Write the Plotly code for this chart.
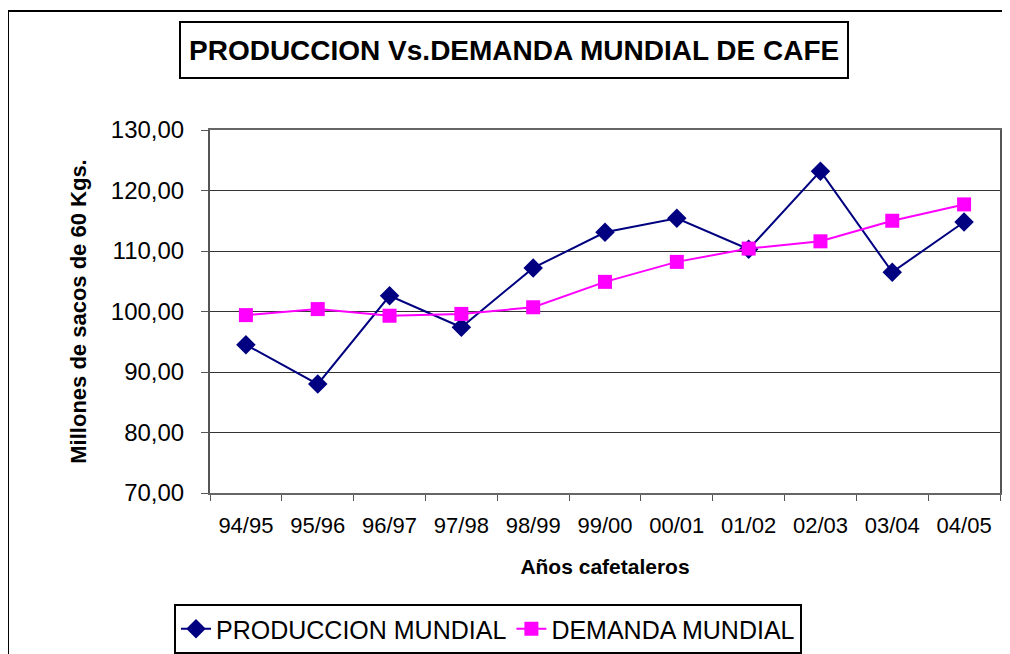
import plotly.graph_objects as go

anios = ["94/95", "95/96", "96/97", "97/98", "98/99", "99/00", "00/01", "01/02", "02/03", "03/04", "04/05"]
produccion = [94.5, 88.0, 102.6, 97.4, 107.2, 113.1, 115.4, 110.3, 123.2, 106.5, 114.8]
demanda = [99.4, 100.4, 99.3, 99.6, 100.7, 104.9, 108.2, 110.4, 111.6, 115.0, 117.7]
y_ticks = [70, 80, 90, 100, 110, 120, 130]

# page body has an 8px margin, so the figure is drawn 8px in and 8px down
OFF = 8
W, H = 1010 - OFF, 654 - OFF
L, T = 210 - OFF, 130 - OFF
PW, PH = 790, 363
R, B = W - L - PW, H - T - PH

def px(x):
    return (x - OFF - L) / PW

def py(y):
    return (T + PH - (y - OFF)) / PH

FONT = "Liberation Sans, Arial, sans-serif"

fig = go.Figure()
fig.add_trace(go.Scatter(
    x=anios, y=produccion, name="PRODUCCION MUNDIAL", mode="lines+markers",
    line=dict(color="#000080", width=2),
    marker=dict(symbol="diamond", size=15, color="#000080"),
))
fig.add_trace(go.Scatter(
    x=anios, y=demanda, name="DEMANDA MUNDIAL", mode="lines+markers",
    line=dict(color="#FF00FF", width=2),
    marker=dict(symbol="square", size=14, color="#FF00FF"),
))

fig.update_layout(
    width=W, height=H,
    margin=dict(l=L, r=R, t=T, b=B, autoexpand=False),
    paper_bgcolor="white", plot_bgcolor="white",
    separators=",.",
    font=dict(family=FONT, color="black"),
    showlegend=True,
    legend=dict(
        orientation="h", x=px(488), xanchor="center", y=py(604), yanchor="top",
        bordercolor="black", borderwidth=2, font=dict(size=25, family=FONT),
        tracegroupgap=0,
    ),
    xaxis=dict(
        type="category", range=[-0.5, len(anios) - 0.5],
        tickson="boundaries", ticks="outside", ticklen=6, tickcolor="#555",
        ticklabelstandoff=12,
        showline=True, linecolor="#666", linewidth=2, mirror=True,
        showgrid=False, tickfont=dict(size=22, family=FONT),
        title=dict(text="<b>Años cafetaleros</b>", font=dict(size=21, family=FONT), standoff=22),
    ),
    yaxis=dict(
        range=[70, 130], tickvals=y_ticks, tickformat=".2f",
        ticks="outside", ticklen=7, tickcolor="#555",
        ticklabelstandoff=12,
        showline=True, linecolor="#555", linewidth=2, mirror=True,
        showgrid=True, gridcolor="#333", gridwidth=1,
        tickfont=dict(size=24, family=FONT),
        title=dict(text="<b>Millones de sacos de 60 Kgs.</b>", font=dict(size=22, family=FONT), standoff=18),
        zeroline=False,
    ),
    shapes=[
        dict(type="path", xref="paper", yref="paper",
             path=f"M {px(8)},{py(680)} L {px(8)},{py(11)} L {px(1030)},{py(11)}",
             line=dict(color="black", width=2)),
        dict(type="rect", xref="paper", yref="paper",
             x0=px(180), x1=px(848), y0=py(78), y1=py(22),
             line=dict(color="black", width=2), fillcolor="white"),
    ],
    annotations=[
        dict(text="<b>PRODUCCION Vs.DEMANDA MUNDIAL DE CAFE</b>", xref="paper", yref="paper",
             x=px(514), y=py(50), xanchor="center", yanchor="middle", showarrow=False,
             font=dict(size=28, family=FONT, color="black")),
    ],
)

fig.write_html("out.html")
